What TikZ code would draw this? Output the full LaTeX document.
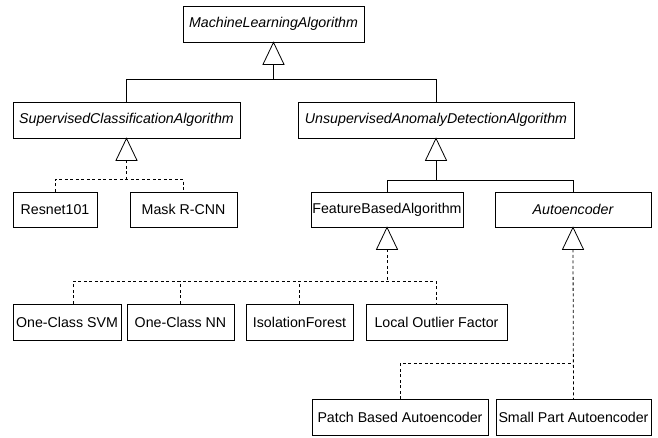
\documentclass[tikz,border=0pt]{standalone}
\usepackage{fontspec}
\setmainfont{Liberation Sans}
\begin{document}
\begin{tikzpicture}[x=1pt,y=-1pt,
  cls/.style={draw, line width=0.8pt, inner sep=0pt, minimum height=36pt, font=\fontsize{14.2}{16}\selectfont},
  abs/.style={cls, font=\fontsize{14.2}{16}\selectfont\itshape},
  conn/.style={line width=0.8pt},
  dconn/.style={line width=0.8pt, dash pattern=on 3pt off 2.5pt},
  tri/.style={line width=0.8pt, fill=white}]
\useasboundingbox (0,0) rectangle (658,437);
% classes
\node[abs, minimum width=181pt] (mla) at (273.5,24) {MachineLearningAlgorithm};
\node[abs, minimum width=227pt] (sca) at (126.5,120) {SupervisedClassificationAlgorithm};
\node[abs, minimum width=276pt] (uad) at (436,120) {UnsupervisedAnomalyDetectionAlgorithm};
\node[cls, minimum width=84pt, minimum height=35pt] (res) at (55,209.5) {Resnet101};
\node[cls, minimum width=107pt, minimum height=35pt] (mask) at (183.5,209.5) {Mask R-CNN};
\node[cls, minimum width=152pt, minimum height=35pt] (fba) at (387,209.5) {FeatureBasedAlgorithm};
\node[abs, minimum width=156pt, minimum height=35pt] (ae) at (573,209.5) {Autoencoder};
\node[cls, minimum width=108pt] (svm) at (67,322) {One-Class SVM};
\node[cls, minimum width=107pt] (nn) at (180.5,322) {One-Class NN};
\node[cls, minimum width=107pt] (iso) at (299.5,322) {IsolationForest};
\node[cls, minimum width=141pt] (lof) at (436.5,322) {Local Outlier Factor};
\node[cls, minimum width=176pt] (patch) at (400,417.5) {Patch Based Autoencoder};
\node[cls, minimum width=155pt] (small) at (573.5,417.5) {Small Part Autoencoder};
% triangle bases and junctions
\coordinate (t1) at ([yshift=-22pt]mla.south);
\coordinate (j1) at ([yshift=-15pt]t1);
\coordinate (t2) at ([yshift=-22pt]sca.south);
\coordinate (j2) at ([yshift=-19pt]t2);
\coordinate (t3) at ([yshift=-22pt]uad.south);
\coordinate (j3) at ([yshift=-20pt]t3);
\coordinate (t4) at ([yshift=-22pt]fba.south);
\coordinate (j4) at ([yshift=-32pt]t4);
\coordinate (t5) at ([yshift=-22pt]ae.south);
\coordinate (j5) at ([yshift=-114pt]t5);
\coordinate (svmtop) at ([xshift=6pt]svm.north);
% level 1: solid
\draw[conn] (t1) -- (j1);
\draw[conn] (sca.north) -- (sca.north |- j1) -- (uad.north |- j1) -- (uad.north);
\draw[tri] (mla.south) -- ++(-10.5,22) -- ++(21,0) -- cycle;
% supervised: dashed
\draw[dconn] (t2) -- (j2);
\draw[dconn] (res.north) -- (res.north |- j2) -- (mask.north |- j2) -- (mask.north);
\draw[tri] (sca.south) -- ++(-10.5,22) -- ++(21,0) -- cycle;
% unsupervised: solid
\draw[conn] (t3) -- (j3);
\draw[conn] (fba.north) -- (fba.north |- j3) -- (ae.north |- j3) -- (ae.north);
\draw[tri] (uad.south) -- ++(-10.5,22) -- ++(21,0) -- cycle;
% feature based: dashed
\draw[dconn] (t4) -- (j4);
\draw[dconn] (svmtop) -- (svmtop |- j4) -- (lof.north |- j4) -- (lof.north);
\draw[dconn] (nn.north) -- (nn.north |- j4);
\draw[dconn] (iso.north) -- (iso.north |- j4);
\draw[tri] (fba.south) -- ++(-10.5,22) -- ++(21,0) -- cycle;
% autoencoder: dashed
\draw[dconn] (t5) -- (small.north);
\draw[dconn] (patch.north) -- (patch.north |- j5) -- (j5);
\draw[tri] (ae.south) -- ++(-10.5,22) -- ++(21,0) -- cycle;
\end{tikzpicture}
\end{document}
